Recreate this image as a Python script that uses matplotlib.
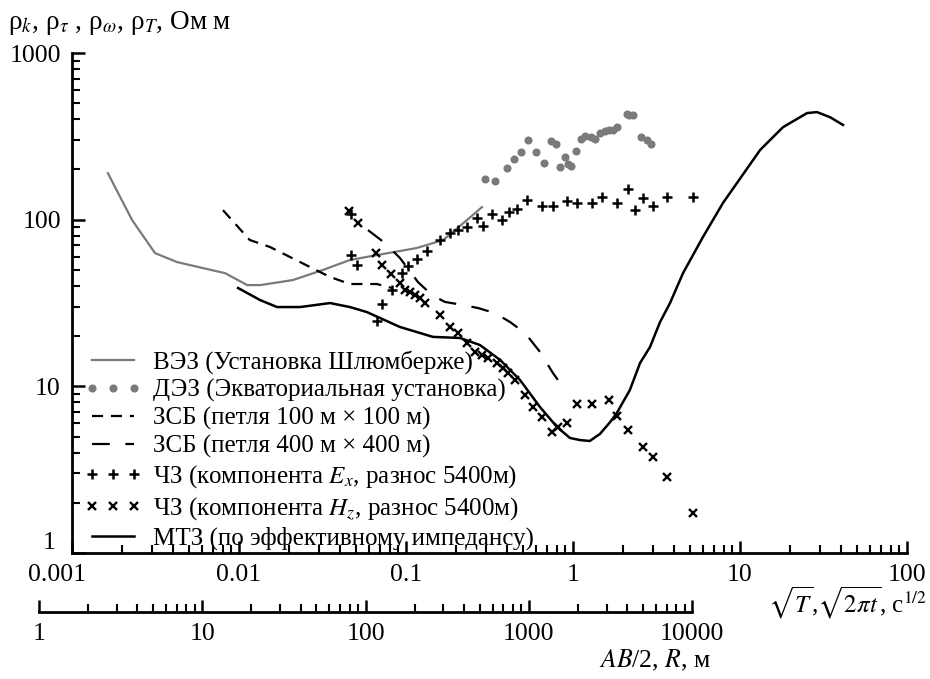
import matplotlib
matplotlib.use("Agg")
import matplotlib.pyplot as plt
from matplotlib.ticker import LogLocator, NullFormatter, FixedLocator, FixedFormatter

plt.rcParams['font.family'] = ['Liberation Serif', 'DejaVu Serif']
plt.rcParams['mathtext.fontset'] = 'stix'

# ВЭЗ (Шлюмберже) - серая линия
ves_x = [0.00164, 0.00229, 0.00314, 0.00425, 0.00609, 0.00824, 0.0112, 0.0134, 0.0210,
         0.0318, 0.0462, 0.0670, 0.116, 0.167, 0.232, 0.285]
ves_y = [190, 99.5, 63, 55.7, 51.2, 47.8, 40.5, 40.5, 43.4, 49.9, 57.3, 61.3, 67.6, 75.5, 99.5, 119]

# ДЭЗ (экваториальная) - серые точки
dez_x = [0.297, 0.341, 0.402, 0.443, 0.488, 0.538, 0.600, 0.670, 0.738, 0.791, 0.836, 0.896,
         0.933, 0.973, 1.04, 1.12, 1.18, 1.28, 1.36, 1.45, 1.56, 1.64, 1.74, 1.83, 2.11, 2.16,
         2.29, 2.55, 2.77, 2.93]
dez_y = [175, 171, 204, 231, 255, 300, 255, 219, 296, 285, 207, 238, 216, 210, 258, 305, 318,
         313, 305, 331, 340, 345, 345, 359, 430, 425, 425, 313, 300, 284]

# ЗСБ петля 100x100
zsb100_x = [0.00802, 0.0116, 0.0153, 0.0202, 0.0266, 0.0351, 0.0462, 0.0670, 0.0824]
zsb100_y = [114, 75.5, 68.6, 59.7, 52, 45.3, 41.1, 41.1, 38.9]

# ЗСБ петля 400x400
zsb400_x = [0.0592, 0.0748, 0.0920, 0.118, 0.143, 0.171, 0.217, 0.270, 0.341, 0.420, 0.516,
            0.634, 0.759, 0.871]
zsb400_y = [86.6, 72.4, 58.9, 42.2, 35.3, 32.1, 30.8, 29.5, 27.5, 24.3, 20.9, 16.1, 12.0, 9.9]

# ЧЗ компонента Ex
ex_x = [0.0469, 0.0469, 0.0509, 0.0670, 0.0718, 0.0824, 0.0946, 0.103, 0.116, 0.134, 0.160,
        0.183, 0.205, 0.232, 0.266, 0.289, 0.327, 0.376, 0.414, 0.462, 0.531, 0.652, 0.759,
        0.920, 1.06, 1.30, 1.49, 1.83, 2.13, 2.35, 2.62, 3.01, 3.66, 5.23]
ex_y = [108, 61.3, 53.4, 24.6, 31.2, 37.8, 47.8, 52.7, 58.0, 64.8, 75.5, 83.2, 86.6, 90.3,
        102, 91.6, 108, 99.5, 111, 116, 131, 121, 121, 129, 126, 126, 137, 126, 153, 114,
        135, 121, 137, 137]

# ЧЗ компонента Hz
hz_x = [0.0456, 0.0516, 0.0661, 0.0718, 0.0813, 0.0920, 0.0987, 0.106, 0.113, 0.121, 0.130,
        0.160, 0.183, 0.205, 0.232, 0.259, 0.285, 0.310, 0.351, 0.381, 0.408, 0.450, 0.516,
        0.575, 0.652, 0.748, 0.813, 0.920, 1.06, 1.30, 1.64, 1.83, 2.13, 2.62, 3.01, 3.66, 5.23]
hz_y = [113, 95.5, 63.1, 53.4, 47.2, 41.7, 37.8, 36.8, 35.3, 33.9, 31.6, 26.8, 22.7, 20.9,
        18.2, 16.1, 15.4, 14.8, 13.8, 12.9, 12.0, 10.9, 8.87, 7.52, 6.55, 5.32, 5.70, 6.03,
        7.83, 7.83, 8.28, 6.64, 5.47, 4.33, 3.77, 2.86, 1.74]

# МТЗ
mt_x = [0.00987, 0.0134, 0.0169, 0.0232, 0.0351, 0.0462, 0.0583, 0.092, 0.145, 0.211, 0.277,
        0.366, 0.482, 0.634, 0.802, 0.959, 1.10, 1.26, 1.45, 1.67, 1.83, 2.19, 2.52, 2.89,
        3.32, 3.81, 4.56, 6.00, 7.91, 13.2, 18.1, 25.2, 28.9, 34.6, 41.4]
mt_y = [38.9, 32.9, 29.9, 29.9, 31.6, 29.9, 27.9, 22.7, 19.8, 19.5, 17.7, 14.4, 10.9, 7.52,
        5.70, 4.90, 4.76, 4.70, 5.18, 6.11, 6.92, 9.5, 13.8, 17.2, 24.3, 31.6, 47.8, 78.7,
        126, 262, 359, 436, 442, 412, 370]

x_ticks = [0.001, 0.01, 0.1, 1, 10, 100]
x_labels = ['', '0.01', '0.1', '1', '10', '100']
y_ticks = [1, 10, 100, 1000]
y_labels = ['', '10', '100', '1000']
r_ticks = [1, 10, 100, 1000, 10000]
r_labels = ['1', '10', '100', '1000', '10000']

FS = 18.5
LFS = 18
gray = '#7a7a7a'

fig = plt.figure(figsize=(9.3, 6.79), dpi=100)
ax = fig.add_axes([72 / 930, 1 - 553 / 679, 835 / 930, 500 / 679])
ax.set_xscale('log')
ax.set_yscale('log')
ax.set_xlim(0.001, 100)
ax.set_ylim(1, 1000)

ax.plot(ves_x, ves_y, color=gray, lw=1.6, label='ВЭЗ (Установка Шлюмберже)')
ax.plot(dez_x, dez_y, ls='none', marker='o', ms=4.8, color=gray, mec=gray,
        label='ДЭЗ (Экваториальная установка)')
ax.plot(zsb100_x, zsb100_y, color='black', lw=1.6, ls=(0, (5, 3.5)),
        label='ЗСБ (петля 100 м × 100 м)')
ax.plot(zsb400_x, zsb400_y, color='black', lw=1.6, ls=(0, (8, 7)),
        label='ЗСБ (петля 400 м × 400 м)')
ax.plot(ex_x, ex_y, ls='none', marker='+', ms=7, mew=1.8, color='black',
        label='ЧЗ (компонента $E_x$, разнос 5400м)')
ax.plot(hz_x, hz_y, ls='none', marker='x', ms=5.5, mew=1.7, color='black',
        label='ЧЗ (компонента $H_z$, разнос 5400м)')
ax.plot(mt_x, mt_y, color='black', lw=1.8, label='МТЗ (по эффективному импедансу)')

for s in ['top', 'right']:
    ax.spines[s].set_visible(False)
for s in ['left', 'bottom']:
    ax.spines[s].set_linewidth(2)

ax.xaxis.set_major_locator(FixedLocator(x_ticks))
ax.xaxis.set_major_formatter(FixedFormatter(x_labels))
ax.yaxis.set_major_locator(FixedLocator(y_ticks))
ax.yaxis.set_major_formatter(FixedFormatter(y_labels))
ax.xaxis.set_minor_locator(LogLocator(base=10, subs=range(2, 10)))
ax.yaxis.set_minor_locator(LogLocator(base=10, subs=range(2, 10)))
ax.xaxis.set_minor_formatter(NullFormatter())
ax.yaxis.set_minor_formatter(NullFormatter())
ax.tick_params(which='major', direction='in', length=9, width=1.8, labelsize=FS, pad=8)
ax.tick_params(which='minor', direction='in', length=6, width=1.5)

# labels shifted as in the original
ax.annotate('0.001', xy=(0.001, 0), xycoords=('data', 'axes fraction'),
            xytext=(-11, -8), textcoords='offset points', ha='center', va='top', fontsize=FS)
ax.annotate('1', xy=(0, 1), xycoords=('axes fraction', 'data'),
            xytext=(-12, 7), textcoords='offset points', ha='right', va='center', fontsize=FS)

leg = ax.legend(loc='upper left', bbox_to_anchor=(84 / 930, 1 - 350 / 679),
                bbox_transform=fig.transFigure, frameon=False, fontsize=LFS,
                numpoints=3, handlelength=2.3, handletextpad=0.45, labelspacing=0.2,
                borderpad=0, borderaxespad=0)

# second x axis (AB/2, R)
ax2 = fig.add_axes([39 / 930, 1 - 612 / 679, 653 / 930, 0.0001])
ax2.set_xscale('log')
ax2.set_xlim(1, 10000)
ax2.patch.set_visible(False)
for s in ['top', 'right', 'left']:
    ax2.spines[s].set_visible(False)
ax2.spines['bottom'].set_linewidth(2)
ax2.set_yticks([])
ax2.xaxis.set_major_locator(FixedLocator(r_ticks))
ax2.xaxis.set_major_formatter(FixedFormatter(r_labels))
ax2.xaxis.set_minor_locator(LogLocator(base=10, subs=range(2, 10)))
ax2.xaxis.set_minor_formatter(NullFormatter())
ax2.tick_params(which='major', direction='in', length=9, width=1.8, labelsize=FS, pad=8)
ax2.tick_params(which='minor', direction='in', length=6, width=1.5)

fig.text(8 / 930, 1 - 23 / 679, 'ρ$_k$, ρ$_τ$ , ρ$_ω$, ρ$_T$, Ом м', fontsize=19.5,
         ha='left', va='center')
fig.text(927 / 930, 1 - 603 / 679, r'$\sqrt{T}$,$\sqrt{2\pi t}$, с$^{1/2}$', fontsize=18,
         ha='right', va='center')
fig.text(655 / 930, 1 - 660 / 679, '$AB$/2, $R$, м', fontsize=18.5, ha='center', va='center')

fig.savefig('out.png', dpi=100)
